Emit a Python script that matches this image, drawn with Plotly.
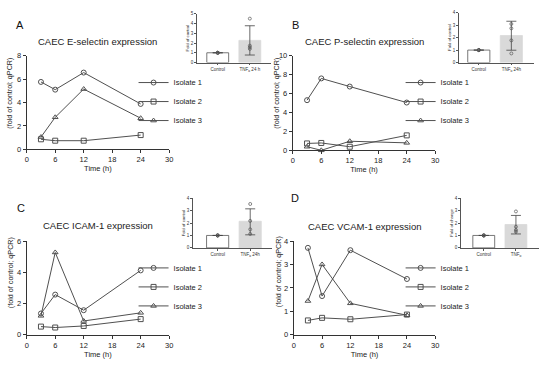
import plotly.graph_objects as go

W, H = 550, 368

# ---------------- data ----------------
time_h = [3, 6, 12, 24]
isolates = ["Isolate 1", "Isolate 2", "Isolate 3"]

a_iso1 = [5.76, 5.1, 6.56, 3.88]
a_iso2 = [0.86, 0.74, 0.74, 1.22]
a_iso3 = [1.05, 2.74, 5.15, 2.66]

b_iso1 = [5.3, 7.6, 6.74, 5.05]
b_iso2 = [0.73, 0.78, 0.38, 1.58]
b_iso3 = [0.38, 0.0, 0.96, 0.79]

c_iso1 = [1.36, 2.57, 1.57, 4.12]
c_iso2 = [0.52, 0.46, 0.56, 1.0]
c_iso3 = [1.21, 5.27, 0.88, 1.4]

d_iso1 = [3.71, 1.65, 3.61, 2.38]
d_iso2 = [0.61, 0.72, 0.66, 0.86]
d_iso3 = [1.44, 3.0, 1.34, 0.83]

inset_groups = ["Control", "TNF"]
# inset bars: means, upper and lower error-bar ends, individual points
a_means = [1.0, 2.27]; a_hi = [1.0, 3.77]; a_lo = [1.0, 0.77]
a_ctrl_pts = [1.0, 1.0, 1.0, 1.0]; a_tnf_pts = [4.5, 1.73, 1.57, 1.4]
b_means = [1.0, 2.17]; b_hi = [1.0, 3.32]; b_lo = [1.0, 0.99]
b_ctrl_pts = [1.0, 1.0, 1.0, 1.0]; b_tnf_pts = [3.1, 2.75, 1.78, 0.73]
c_means = [1.0, 2.14]; c_hi = [1.0, 3.14]; c_lo = [1.0, 1.05]
c_ctrl_pts = [1.0, 1.0, 1.0, 1.0]; c_tnf_pts = [3.53, 2.17, 1.49, 1.12]
d_means = [1.0, 1.88]; d_hi = [1.0, 2.61]; d_lo = [1.0, 1.12]
d_ctrl_pts = [1.0, 1.0, 1.0, 1.0]; d_tnf_pts = [2.93, 1.7, 1.44, 1.3]

x_ticks = [0, 6, 12, 18, 24, 30]

# ---------------- style ----------------
FONT = "Arial"
LC = "#505050"
AX = "#333333"
symbols = ["circle-open", "square-open", "triangle-up-open"]


def px_x(a, b):
    return [a / W, b / W]


def px_y(top, bottom):
    return [1 - bottom / H, 1 - top / H]


panels = [
    dict(key="A", title="CAEC E-selectin expression", data=[a_iso1, a_iso2, a_iso3],
         xd=px_x(25, 169), yd=px_y(53, 149), yr=[0, 8], dt=2, leg_y=100,
         leg_x=133, lab=(18, 22), tit=(97, 38), ytitle_xy=(8, 91)),
    dict(key="B", title="CAEC P-selectin expression", data=[b_iso1, b_iso2, b_iso3],
         xd=px_x(294, 438), yd=px_y(53, 150), yr=[0, 10], dt=2, leg_y=100,
         leg_x=403, lab=(297, 22), tit=(366, 38), ytitle_xy=(278, 91)),
    dict(key="C", title="CAEC ICAM-1 expression", data=[c_iso1, c_iso2, c_iso3],
         xd=px_x(25, 169), yd=px_y(243, 339), yr=[0, 6], dt=2, leg_y=290,
         leg_x=133, lab=(19, 209), tit=(97, 227), ytitle_xy=(8, 275)),
    dict(key="D", title="CAEC VCAM-1 expression", data=[d_iso1, d_iso2, d_iso3],
         xd=px_x(295, 438), yd=px_y(243, 339), yr=[0, 4], dt=1, leg_y=290,
         leg_x=403, lab=(296, 199), tit=(367, 228), ytitle_xy=(279, 274)),
]

insets = [
    dict(means=a_means, hi=a_hi, lo=a_lo, cp=a_ctrl_pts, tp=a_tnf_pts,
         xd=px_x(197, 272), yd=px_y(10, 60), xr=[-0.65, 1.66], yr=[0, 5],
         ylab="Fold of control", tlab="TNF<sub>α</sub> 24 h"),
    dict(means=b_means, hi=b_hi, lo=b_lo, cp=b_ctrl_pts, tp=b_tnf_pts,
         xd=px_x(462, 538), yd=px_y(9, 60), xr=[-0.61, 1.70], yr=[0, 4],
         ylab="Fold of control", tlab="TNF<sub>α</sub> 24h"),
    dict(means=c_means, hi=c_hi, lo=c_lo, cp=c_ctrl_pts, tp=c_tnf_pts,
         xd=px_x(193, 273), yd=px_y(199, 250), xr=[-0.76, 1.67], yr=[0, 4],
         ylab="Fold of control", tlab="TNF<sub>α</sub> 24h"),
    dict(means=d_means, hi=d_hi, lo=d_lo, cp=d_ctrl_pts, tp=d_tnf_pts,
         xd=px_x(464, 543), yd=px_y(199, 250), xr=[-0.71, 1.72], yr=[0, 4],
         ylab="Fold of change", tlab="TNF<sub>α</sub>"),
]

fig = go.Figure()
layout = dict(
    width=W, height=H, margin=dict(l=0, r=0, t=0, b=0),
    paper_bgcolor="white", plot_bgcolor="rgba(0,0,0,0)",
    font=dict(family=FONT, color="#222"),
    showlegend=True,
)
annotations = []

for i, p in enumerate(panels):
    n = i + 1
    xa = "x" if n == 1 else f"x{n}"
    ya = "y" if n == 1 else f"y{n}"
    legname = "legend" if n == 1 else f"legend{n}"
    for j, series in enumerate(p["data"]):
        fig.add_trace(go.Scatter(
            x=time_h, y=series, mode="lines+markers", name=isolates[j],
            xaxis=xa, yaxis=ya, legend=legname, cliponaxis=False,
            line=dict(color=LC, width=1),
            marker=dict(symbol=symbols[j], size=5, color=LC, line=dict(width=1, color=LC)),
        ))
    axkw = dict(showgrid=False, zeroline=False, showline=True, linecolor=AX, linewidth=1,
                ticks="outside", ticklen=3, tickcolor=AX, tickwidth=1,
                tickfont=dict(size=7.5, color="#222", family=FONT))
    layout[f"xaxis{n}"] = dict(domain=p["xd"], anchor=ya, range=[0, 30], tickvals=x_ticks,
                               title=dict(text="Time (h)", font=dict(size=7.5, family=FONT), standoff=2),
                               **axkw)
    layout[f"yaxis{n}"] = dict(domain=p["yd"], anchor=xa, range=p["yr"], dtick=p["dt"], tick0=0,
                               **axkw)
    layout[legname] = dict(x=p["leg_x"] / W, xanchor="left", y=1 - p["leg_y"] / H, yanchor="middle",
                           bgcolor="rgba(0,0,0,0)", font=dict(size=7.5, family=FONT, color="#222"),
                           itemwidth=30, tracegroupgap=0)
    annotations.append(dict(text=p["key"], x=p["lab"][0] / W, y=1 - p["lab"][1] / H, xref="paper",
                            yref="paper", showarrow=False, xanchor="center", yanchor="middle",
                            font=dict(size=11, family=FONT, color="#111")))
    annotations.append(dict(text=p["title"], x=p["tit"][0] / W, y=1 - p["tit"][1] / H, xref="paper",
                            yref="paper", showarrow=False, xanchor="center", yanchor="middle",
                            font=dict(size=9.5, family=FONT, color="#222")))
    annotations.append(dict(text="(fold of control; qPCR)", x=p["ytitle_xy"][0] / W,
                            y=1 - p["ytitle_xy"][1] / H, xref="paper", yref="paper",
                            showarrow=False, textangle=-90, xanchor="center", yanchor="middle",
                            font=dict(size=7.2, family=FONT, color="#222")))

for k, s in enumerate(insets):
    n = k + 5
    xa, ya = f"x{n}", f"y{n}"
    fig.add_trace(go.Bar(
        x=[0, 1], y=s["means"], xaxis=xa, yaxis=ya, showlegend=False, width=0.68,
        marker=dict(color=["white", "#d9d9d9"], line=dict(color=["#555", "#d9d9d9"], width=0.8)),
        error_y=dict(type="data", symmetric=False,
                     array=[h - m for h, m in zip(s["hi"], s["means"])],
                     arrayminus=[m - l for m, l in zip(s["means"], s["lo"])],
                     color="#444", thickness=0.8, width=5),
    ))
    fig.add_trace(go.Scatter(
        x=[0] * len(s["cp"]) + [1] * len(s["tp"]), y=s["cp"] + s["tp"],
        mode="markers", xaxis=xa, yaxis=ya, showlegend=False, cliponaxis=False,
        marker=dict(symbol="circle-open", size=3, color="#555", line=dict(width=0.7)),
    ))
    ikw = dict(showgrid=False, zeroline=False, showline=True, linecolor="#555", linewidth=0.6,
               ticks="outside", ticklen=2, tickcolor="#555", tickwidth=0.6,
               tickfont=dict(size=4.5, color="#333", family=FONT))
    layout[f"xaxis{n}"] = dict(domain=s["xd"], anchor=ya, range=s["xr"], tickvals=[0, 1],
                               ticktext=["Control", s["tlab"]], **ikw)
    layout[f"yaxis{n}"] = dict(domain=s["yd"], anchor=xa, range=s["yr"], dtick=1, tick0=0,
                               title=dict(text=s["ylab"], font=dict(size=4.2, family=FONT), standoff=1),
                               **ikw)

layout["annotations"] = annotations
fig.update_layout(**layout)
fig.write_html("out.html", config={"displayModeBar": False},
               post_script="document.body.style.margin='0';document.body.style.overflow='hidden';")
